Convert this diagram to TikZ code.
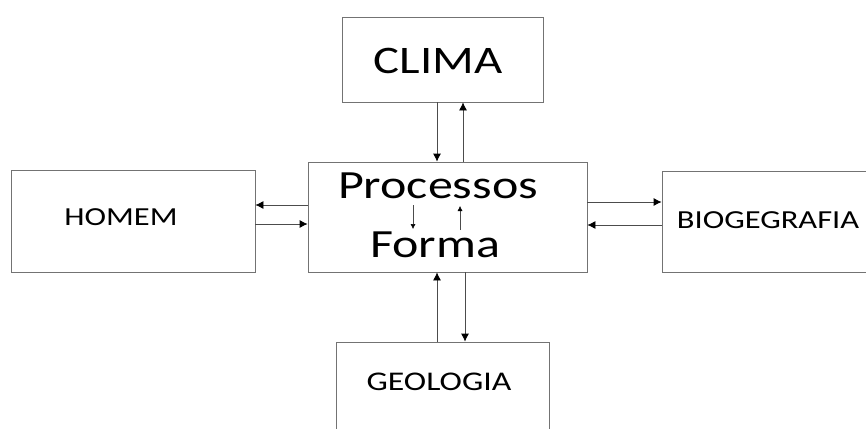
\documentclass[tikz,border=0pt]{standalone}
\usepackage{fontspec}
\setmainfont{Carlito}
\usetikzlibrary{arrows.meta}

\begin{document}
\begin{tikzpicture}[x=1pt,y=-1pt,
    caixa/.style={draw=black!55, line width=0.8pt, inner sep=0pt},
    rotulo/.style={xscale=1.25, inner sep=0pt, anchor=base},
    seta/.style={-{Latex[length=8pt,width=8pt,color=black]}, line width=0.8pt, draw=black!70},
    setinha/.style={-{Latex[length=5pt,width=5pt,color=black]}, line width=0.5pt, draw=black!70}]
    \useasboundingbox (0,0) rectangle (866,428);
    \clip (0,0) rectangle (866,428);

    \node[caixa, minimum width=201pt, minimum height=85pt] (clima) at (442.5,59.5) {};
    \node[caixa, minimum width=279pt, minimum height=110pt] (proc) at (447.5,217) {};
    \node[caixa, minimum width=244pt, minimum height=102pt] (homem) at (133,221) {};
    \node[caixa, minimum width=210pt, minimum height=101pt] (bio) at (767,221.5) {};
    \node[caixa, minimum width=213pt, minimum height=100pt] (geo) at (442.5,392) {};

    \node[rotulo, font=\fontsize{39}{47}\selectfont] (tclima) at (438,73) {CLIMA};
    \node[rotulo, font=\fontsize{40}{48}\selectfont] (tproc) at (438,198) {Processos};
    \node[rotulo, font=\fontsize{40}{48}\selectfont] (tforma) at (435,257) {Forma};
    \node[rotulo, font=\fontsize{26}{31}\selectfont] (thomem) at (121,225) {HOMEM};
    \node[rotulo, font=\fontsize{26}{31}\selectfont] (tbio) at (768,228) {BIOGEGRAFIA};
    \node[rotulo, font=\fontsize{27}{32}\selectfont] (tgeo) at (439,390) {GEOLOGIA};

    \draw[seta] (clima.south -| 437,0) -- (proc.north -| 437,0);
    \draw[seta] (proc.north -| 463,0) -- (clima.south -| 463,0);

    \draw[seta] (proc.west |- 0,205) -- (homem.east |- 0,205);
    \draw[seta] (homem.east |- 0,224) -- (proc.west |- 0,224);

    \draw[seta] (proc.east |- 0,202) -- (bio.west |- 0,202);
    \draw[seta] (bio.west |- 0,225) -- (proc.east |- 0,225);

    \draw[seta] (geo.north -| 437,0) -- (proc.south -| 437,0);
    \draw[seta] (proc.south -| 465,0) -- (geo.north -| 465,0);

    \draw[setinha] ([shift={(-34.5,-12)}]proc.center) -- ([shift={(-34.5,12)}]proc.center);
    \draw[setinha] ([shift={(12.5,13)}]proc.center) -- ([shift={(12.5,-11)}]proc.center);
\end{tikzpicture}
\end{document}
